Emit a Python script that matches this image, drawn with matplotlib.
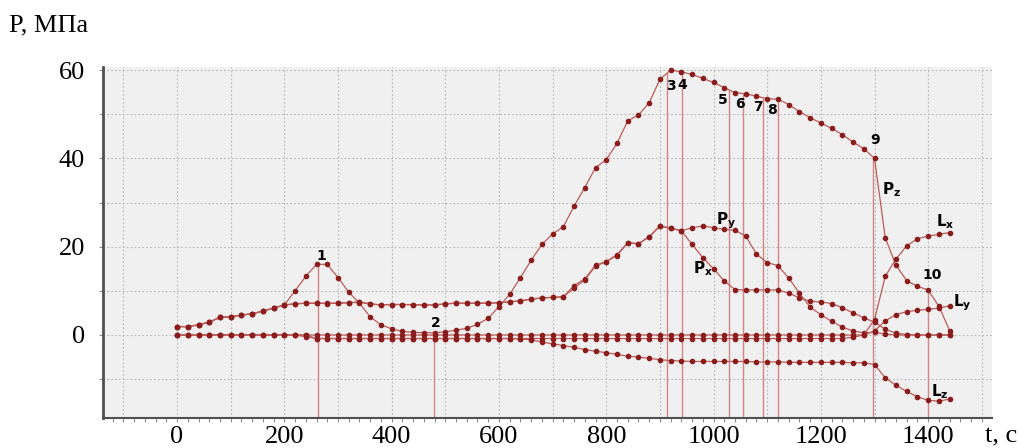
import numpy as np
import matplotlib.pyplot as plt
from matplotlib.ticker import MultipleLocator, FuncFormatter

# --- Data --- #
t = np.arange(0, 1441, 20)   # time, s

p_z = [1.9, 1.9, 2.3, 2.9, 4.0, 4.1, 4.5, 4.8, 5.4, 6.1,
       6.8, 10.0, 13.3, 16.0, 16.0, 13.0, 9.7, 7.2, 4.1, 2.3,
       1.4, 0.8, 0.6, 0.5, 0.5, 0.7, 1.1, 1.5, 2.4, 3.8,
       6.4, 9.2, 13.0, 16.9, 20.5, 22.9, 24.5, 29.2, 33.4, 37.9,
       39.7, 43.4, 48.5, 49.8, 52.6, 57.9, 60.0, 59.6, 59.0, 58.1,
       57.2, 56.0, 54.9, 54.6, 54.1, 53.5, 53.4, 52.2, 50.6, 49.2,
       48.0, 46.8, 45.4, 43.7, 42.2, 40.0, 22.0, 15.8, 12.3, 11.0,
       10.2, 6.5, 1.0]

p_y = [1.9, 1.9, 2.3, 2.9, 4.0, 4.1, 4.5, 4.8, 5.4, 6.1,
       6.8, 7.1, 7.2, 7.2, 7.2, 7.2, 7.3, 7.5, 7.1, 6.8,
       6.9, 6.9, 6.9, 6.8, 6.8, 7.1, 7.2, 7.2, 7.2, 7.2,
       7.3, 7.5, 7.7, 8.1, 8.4, 8.5, 8.6, 11.2, 12.7, 15.8,
       16.6, 18.2, 20.9, 20.7, 22.3, 24.7, 24.2, 23.6, 24.3, 24.7,
       24.3, 23.9, 23.7, 22.4, 18.3, 16.4, 15.7, 12.9, 9.5, 6.3,
       4.6, 3.1, 1.8, 0.9, 0.5, 0.6, 0.2, 0.0, 0.0, 0.0,
       0.0, 0.0, 0.0]

p_x = [1.9, 1.9, 2.3, 2.9, 4.0, 4.1, 4.5, 4.8, 5.4, 6.1,
       6.8, 7.0, 7.2, 7.2, 7.1, 7.2, 7.3, 7.4, 7.0, 6.8,
       6.9, 6.9, 6.8, 6.8, 6.8, 7.0, 7.2, 7.2, 7.2, 7.2,
       7.3, 7.5, 7.8, 8.1, 8.4, 8.5, 8.7, 10.6, 12.5, 15.6,
       16.6, 18.0, 20.9, 20.6, 22.2, 24.6, 24.2, 23.6, 20.5, 17.5,
       15.0, 12.2, 10.3, 10.2, 10.2, 10.2, 10.2, 9.5, 8.4, 7.6,
       7.5, 7.1, 6.2, 5.0, 3.9, 2.9, 1.3, 0.4, 0.1, 0.0,
       0.0, 0.0, 0.0]

l_x = [0.0, 0.0, 0.0, 0.0, 0.0, 0.0, 0.0, 0.0, 0.0, 0.0,
       0.0, 0.0, 0.0, 0.0, 0.0, 0.0, 0.0, 0.0, 0.0, 0.0,
       0.0, 0.0, 0.0, 0.0, 0.0, 0.0, 0.0, 0.0, 0.0, 0.0,
       0.0, 0.0, 0.0, 0.0, 0.0, 0.0, 0.0, 0.0, 0.0, 0.0,
       0.0, 0.0, 0.0, 0.0, 0.0, 0.0, 0.0, 0.0, 0.0, 0.0,
       0.0, 0.0, 0.0, 0.0, 0.0, 0.0, 0.0, 0.0, 0.0, 0.0,
       0.0, 0.0, 0.0, 0.0, 0.0, 3.5, 13.3, 17.2, 20.2, 21.8,
       22.4, 22.8, 23.2]

l_y = [0.0, 0.0, 0.0, 0.0, 0.0, 0.0, 0.0, 0.0, 0.0, 0.0,
       0.0, 0.0, -0.4, -0.8, -0.8, -0.8, -0.8, -0.8, -0.8, -0.8,
       -0.8, -0.8, -0.8, -0.8, -0.8, -0.8, -0.8, -0.8, -0.8, -0.8,
       -0.8, -0.8, -0.8, -0.8, -0.8, -0.8, -0.8, -0.8, -0.8, -0.8,
       -0.8, -0.8, -0.8, -0.8, -0.8, -0.8, -0.8, -0.8, -0.8, -0.8,
       -0.8, -0.8, -0.8, -0.8, -0.8, -0.8, -0.8, -0.8, -0.8, -0.8,
       -0.8, -0.8, -0.8, -0.5, 0.0, 0.9, 3.2, 4.6, 5.3, 5.6,
       5.8, 6.1, 6.6]

l_z = [0.0, 0.0, 0.0, 0.0, 0.0, 0.0, 0.0, 0.0, 0.0, 0.0,
       0.0, 0.0, 0.0, -0.8, -0.8, -0.8, -0.8, -0.8, -0.8, -0.8,
       -0.8, -0.8, -0.8, -0.8, -0.8, -0.8, -0.8, -0.8, -0.8, -0.8,
       -0.8, -0.8, -0.9, -1.1, -1.6, -2.0, -2.4, -2.8, -3.3, -3.7,
       -4.0, -4.4, -4.8, -5.0, -5.3, -5.6, -5.8, -5.9, -6.0, -6.0,
       -6.0, -6.0, -6.0, -6.0, -6.1, -6.1, -6.1, -6.2, -6.2, -6.2,
       -6.2, -6.2, -6.2, -6.3, -6.3, -6.7, -9.7, -11.4, -12.8, -14.0,
       -14.8, -15.0, -14.5]

# event times (s) marked with vertical lines, numbered 1..10
event_t      = [263, 479, 913, 941, 1029, 1055, 1092, 1120, 1298, 1400]
event_names  = ['1', '2', '3', '4', '5', '6', '7', '8', '9', '10']
event_txt_xy = [(268, 17.9), (483, 2.6), (921, 56.4), (941, 56.6), (1018, 53.2),
                (1050, 52.3), (1082, 51.6), (1109, 51.0), (1301, 44.2), (1407, 13.6)]

curves      = [p_z, p_y, p_x, l_x, l_y, l_z]
curve_names = [r'P$_\mathregular{z}$', r'P$_\mathregular{y}$', r'P$_\mathregular{x}$',
               r'L$_\mathregular{x}$', r'L$_\mathregular{y}$', r'L$_\mathregular{z}$']
curve_txt_xy = [(1332, 33.0), (1024, 25.9), (980, 15.1),
                (1431, 25.7), (1463, 7.2), (1421, -12.9)]

# --- Style --- #
line_col  = '#bd5a5a'
mark_col  = '#8a1c1c'
event_col = '#d48484'
serif     = 'Liberation Serif'

fig = plt.figure(figsize=(10.28, 4.48), dpi=100)
ax  = fig.add_axes([0.1002, 0.067, 0.8648, 0.7835])
ax.set_facecolor('#f0f0f0')

ax.set_xlim(-138, 1519)
ax.set_ylim(-18.8, 60.7)

# vertical event lines from the P_z curve down to the axis
y_bottom = ax.get_ylim()[0]
event_y = np.interp(event_t, t, p_z)
ax.vlines(event_t, y_bottom, event_y, color=event_col, lw=1.0, zorder=2)

for y in curves:
    ax.plot(t, y, color=line_col, lw=0.9, marker='o', ms=3.0,
            mfc=mark_col, mec=mark_col, zorder=3)

for name, (x, y) in zip(event_names, event_txt_xy):
    ax.text(x, y, name, fontsize=10, fontweight='bold', ha='center', va='center', zorder=4)

for name, (x, y) in zip(curve_names, curve_txt_xy):
    ax.text(x, y, name, fontsize=11, fontweight='bold', ha='center', va='center', zorder=4)

# --- Axes --- #
ax.xaxis.set_major_locator(MultipleLocator(100))
ax.xaxis.set_minor_locator(MultipleLocator(20))
ax.yaxis.set_major_locator(MultipleLocator(10))
ax.xaxis.set_major_formatter(FuncFormatter(
    lambda v, p: f'{v:.0f}' if v >= 0 and round(v) % 200 == 0 else ''))
ax.yaxis.set_major_formatter(FuncFormatter(
    lambda v, p: f'{v:.0f}' if v >= 0 and round(v) % 20 == 0 else ''))

ax.grid(True, which='major', color='#b8b8b8', lw=0.8, ls=(0, (1.5, 2)))
ax.set_axisbelow(True)

for s in ['top', 'right']:
    ax.spines[s].set_visible(False)
ax.spines['left'].set_color('#505050')
ax.spines['left'].set_linewidth(2.0)
ax.spines['bottom'].set_color('#505050')
ax.spines['bottom'].set_linewidth(1.5)

ax.tick_params(which='both', length=3, color='#909090', width=0.8)
ax.tick_params(axis='x', which='major', pad=3, labelsize=19)
ax.tick_params(axis='y', which='major', pad=10, labelsize=19)
for lab in ax.get_xticklabels() + ax.get_yticklabels():
    lab.set_family(serif)

fig.text(9 / 1028, 1 - 25 / 448, 'P, МПа', family=serif, fontsize=19, ha='left', va='center')
fig.text(985 / 1028, 1 - 436 / 448, 't, c', family=serif, fontsize=19, ha='left', va='center')

fig.savefig('out.png', dpi=100)
